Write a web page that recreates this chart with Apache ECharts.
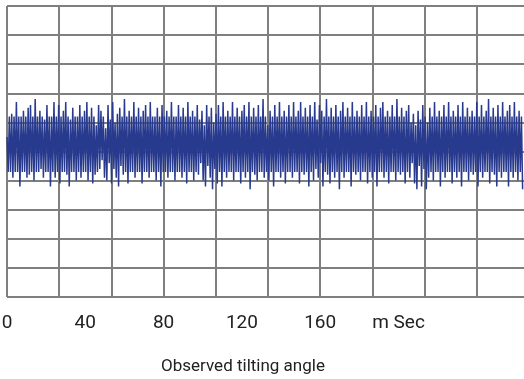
<!DOCTYPE html>
<html>
<head>
<meta charset="utf-8">
<script src="https://cdn.jsdelivr.net/npm/echarts@6/dist/echarts.min.js"></script>
<style>
  html, body { margin: 0; padding: 0; background: #fff; }
  #chart { width: 524px; height: 379px; }
</style>
</head>
<body>
<div id="chart"></div>
<script>
// tick labels under the plot (ms), last one replaced by the unit
const tickLabels = [0, 40, 80, 120, 160]
const unitLabel = 'm Sec'
const unitAt = 200

// grid is 10 columns wide, each column 80/3 ms
const colMs = 80 / 3
const spanMs = colMs * 10

// sampling period of the trace (ms)
const sampleMs = 0.6

// tilting angle samples
const angle = [
  5, -7, 12, -7, 13, -9, 12, -7, 17, -7, 12, -12, 12, -7, 14, -7, 12, -9, 15, -8,
  16, -7, 12, -10, 18, -7, 12, -7, 14, -6, 12, -9, 11, -7, 16, -7, 12, -12, 12, -7,
  17, -9, 12, -7, 16, -11, 12, -7, 14, -7, 17, -8, 12, -12, 11, -7, 15, -7, 12, -10,
  12, -7, 16, -9, 12, -7, 14, -7, 17, -10, 12, -7, 15, -11, 12, -8, 9, -7, 16, -6,
  14, -3, 12, -9, 8, -10, 16, -4, 11, -11, 17, -6, 10, -9, 13, -12, 15, -5, 12, -8,
  18, -7, 12, -11, 14, -7, 12, -7, 17, -9, 12, -7, 15, -7, 12, -11, 14, -7, 16, -7,
  12, -9, 17, -7, 12, -7, 12, -10, 15, -7, 12, -12, 16, -7, 12, -7, 14, -9, 12, -7,
  17, -7, 12, -10, 12, -7, 16, -7, 12, -9, 15, -7, 12, -11, 17, -7, 12, -7, 14, -10,
  12, -7, 16, -8, 11, -4, 14, -10, 9, -12, 16, -5, 12, -9, 15, -13, 10, -6, 13, -11,
  16, -7, 12, -12, 17, -7, 12, -9, 14, -7, 12, -7, 17, -10, 12, -7, 15, -7, 12, -11,
  14, -7, 16, -9, 12, -7, 17, -13, 12, -7, 15, -8, 12, -10, 16, -7, 12, -7, 18, -9,
  12, -7, 9, -10, 14, -7, 12, -12, 16, -7, 12, -7, 17, -9, 12, -7, 14, -11, 12, -7,
  16, -7, 12, -9, 17, -7, 12, -7, 14, -11, 17, -7, 12, -8, 15, -7, 12, -12, 16, -7,
  12, -10, 17, -6, 11, -9, 16, -4, 14, -12, 12, -7, 18, -8, 12, -11, 15, -7, 12, -9,
  16, -7, 12, -13, 14, -7, 17, -9, 12, -7, 15, -7, 12, -12, 17, -7, 12, -8, 14, -7,
  12, -10, 16, -7, 12, -7, 17, -11, 12, -7, 14, -9, 12, -7, 16, -12, 12, -7, 15, -7,
  17, -9, 12, -7, 14, -11, 12, -7, 16, -7, 12, -10, 18, -7, 12, -8, 15, -7, 12, -11,
  14, -7, 16, -9, 10, -4, 13, -11, 9, -13, 14, -5, 11, -12, 16, -6, 12, -13, 10, -9,
  15, -7, 12, -10, 17, -7, 12, -7, 14, -12, 12, -7, 16, -9, 12, -7, 17, -7, 12, -11,
  14, -7, 12, -9, 16, -7, 12, -12, 17, -7, 12, -7, 15, -10, 12, -7, 14, -8, 12, -7,
  17, -12, 12, -7, 16, -9, 12, -7, 14, -7, 18, -11, 12, -7, 15, -8, 12, -12, 16, -7,
  12, -9, 17, -7, 12, -7, 14, -12, 16, -7, 12, -9, 17, -7, 12, -10, 14, -7, 12, -13
]

const gridLine = { color: '#7f7f7f', width: 2 }

const chart = echarts.init(document.getElementById('chart'))

chart.setOption({
  animation: false,
  title: {
    text: 'Observed tilting angle',
    left: 238,
    top: 353,
    textAlign: 'center',
    textStyle: {
      fontFamily: 'Roboto',
      fontSize: 17,
      fontWeight: 'normal',
      color: '#222'
    }
  },
  grid: { left: 7, top: 6, width: 522, height: 291, outerBoundsMode: 'none' },
  xAxis: [
    {
      type: 'value',
      min: 0,
      max: spanMs,
      interval: 40,
      axisLine: { show: false },
      axisTick: { show: false },
      splitLine: { show: false },
      axisLabel: {
        showMaxLabel: false,
        margin: 17,
        fontFamily: 'Roboto',
        fontSize: 19,
        color: '#222',
        formatter: (v) => {
          if (v === unitAt) return unitLabel
          return tickLabels.includes(v) ? String(v) : ''
        }
      }
    },
    {
      type: 'value',
      min: 0,
      max: spanMs,
      interval: colMs,
      z: 3,
      axisLine: { show: false },
      axisTick: { show: false },
      axisLabel: { show: false },
      splitLine: { show: true, lineStyle: gridLine }
    }
  ],
  yAxis: {
    type: 'value',
    min: -50,
    max: 50,
    interval: 10,
    z: 3,
    axisLine: { show: false },
    axisTick: { show: false },
    axisLabel: { show: false },
    splitLine: { show: true, lineStyle: gridLine }
  },
  series: [
    {
      type: 'line',
      xAxisIndex: 0,
      symbol: 'none',
      lineStyle: { width: 1.5, color: '#283a8e' },
      data: angle.map((v, i) => [i * sampleMs, v])
    }
  ]
})
</script>
</body>
</html>
